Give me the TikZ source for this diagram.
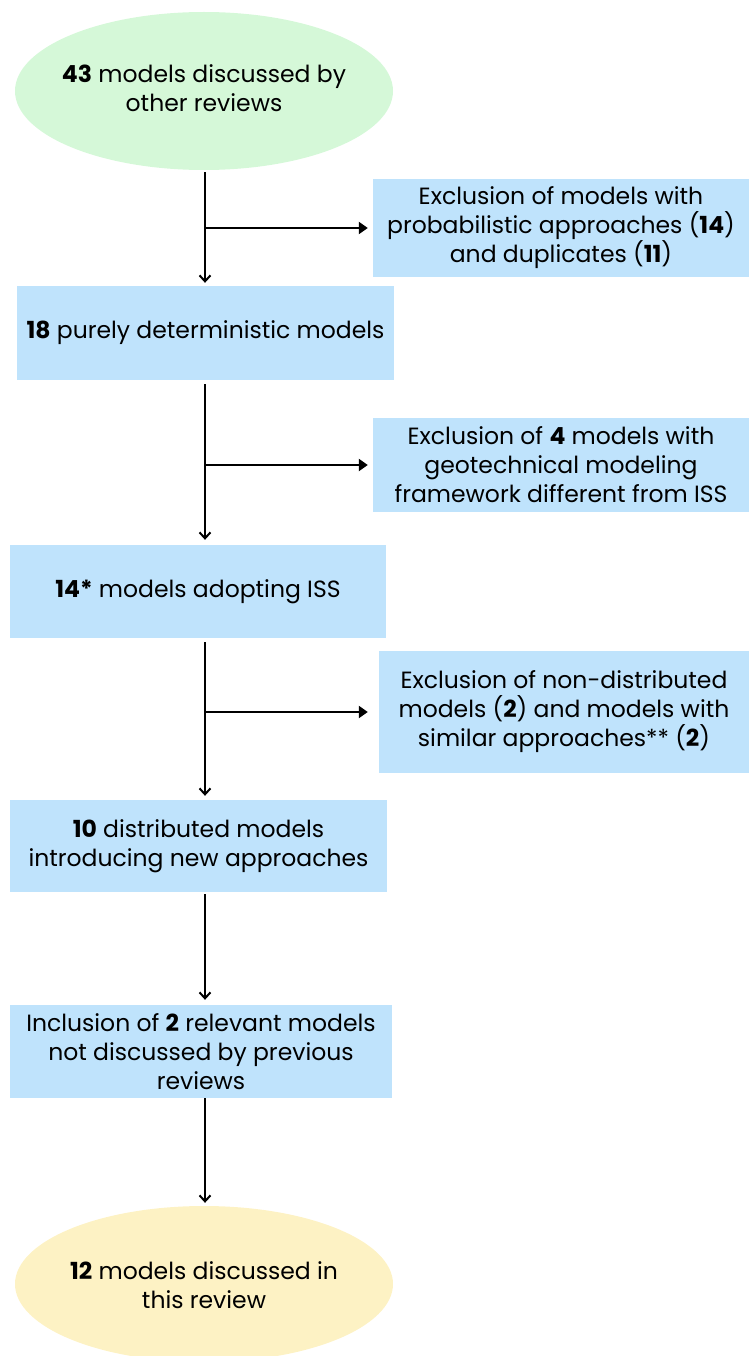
\documentclass[tikz,border=0pt]{standalone}
\usepackage{fontspec}
\setmainfont{Poppins}
\usetikzlibrary{arrows.meta,shapes.geometric}
\definecolor{boxblue}{HTML}{BFE3FC}
\definecolor{startgreen}{HTML}{D5F8D8}
\definecolor{endyellow}{HTML}{FDF2C4}
\begin{document}
\begin{tikzpicture}[x=1pt,y=-1pt,
  every node/.style={font=\fontsize{23.5}{29}\selectfont, align=center, inner sep=0pt},
  stagebox/.style={rectangle, fill=boxblue},
  ovalnode/.style={ellipse, inner sep=0pt},
  flowline/.style={line width=2.2pt, black},
  varrow/.style={flowline, -{Straight Barb[length=6pt,width=11pt,line width=2pt]}},
  harrow/.style={flowline, -{Triangle[length=9pt,width=12pt]}}]
\useasboundingbox (0,0) rectangle (749,1356);
\node[ovalnode, fill=startgreen, minimum width=378pt, minimum height=158pt] (e1) at (204,91) {};
\node (e1t) at ([yshift=3pt]e1.center) {\textbf{43} models discussed by\\other reviews};
\node[stagebox, minimum width=376pt, minimum height=98pt] (b1) at (561,228) {Exclusion of models with\\probabilistic approaches (\textbf{14})\\and duplicates (\textbf{11})};
\node[stagebox, minimum width=377pt, minimum height=94pt] (b2) at (205.5,333) {\textbf{18} purely deterministic models};
\node[stagebox, minimum width=376pt, minimum height=94pt] (b3) at (561,465) {Exclusion of \textbf{4} models with\\geotechnical modeling\\framework different from ISS};
\node[stagebox, minimum width=376pt, minimum height=93pt] (b4) at (198,591.5) {\textbf{14*} models adopting ISS};
\node[stagebox, minimum width=370pt, minimum height=122pt] (b5) at (564,712) {Exclusion of non-distributed\\models (\textbf{2}) and models with\\similar approaches** (\textbf{2})};
\node[stagebox, minimum width=377pt, minimum height=92pt] (b6) at (198.5,846) {\textbf{10} distributed models\\introducing new approaches};
\node[stagebox, minimum width=382pt, minimum height=93pt] (b7) at (201,1051.5) {Inclusion of \textbf{2} relevant models\\not discussed by previous\\reviews};
\node[ovalnode, fill=endyellow, minimum width=378pt, minimum height=156pt] (e2) at (204,1284) {};
\node (e2t) at ([yshift=-1pt]e2.center) {\textbf{12} models discussed in\\this review};
\coordinate (ax) at (205,0);
% arrows
\draw[varrow, shorten <=2pt, shorten >=3pt] (ax |- e1.south) -- (ax |- b2.north);
\draw[harrow, shorten >=5pt] (ax |- b1.west) -- (b1.west);
\draw[varrow, shorten <=4pt, shorten >=5pt] (ax |- b2.south) -- (ax |- b4.north);
\draw[harrow, shorten >=5pt] (ax |- b3.west) -- (b3.west);
\draw[varrow, shorten <=4pt, shorten >=4pt] (ax |- b4.south) -- (ax |- b6.north);
\draw[harrow, shorten >=11pt] (ax |- b5.west) -- (b5.west);
\draw[varrow, shorten <=2pt, shorten >=5pt] (ax |- b6.south) -- (ax |- b7.north);
\draw[varrow, shorten <=0pt, shorten >=3pt] (ax |- b7.south) -- (ax |- e2.north);
\end{tikzpicture}
\end{document}
